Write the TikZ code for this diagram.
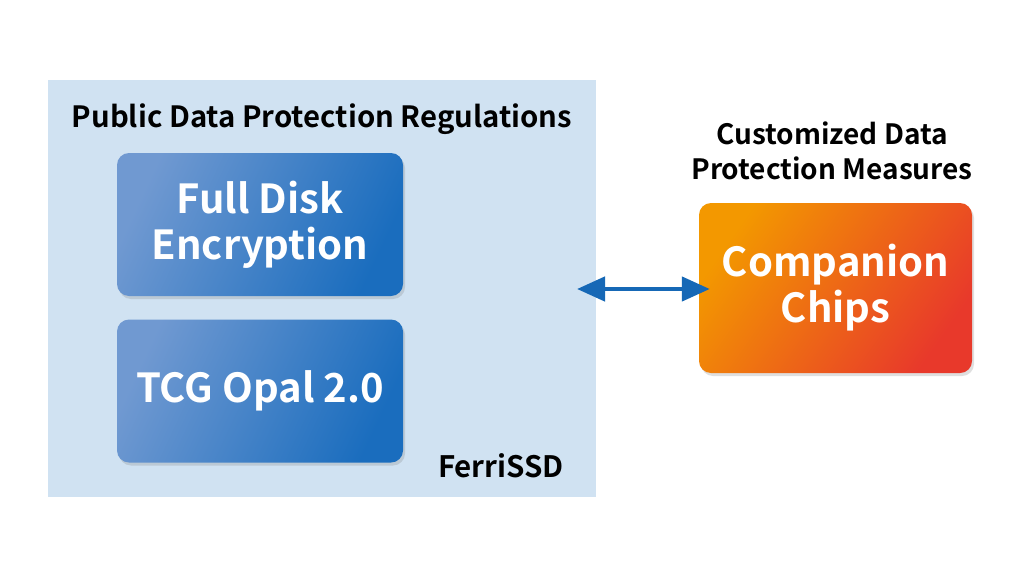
\documentclass[tikz,border=0pt]{standalone}
\usepackage{fontspec}
\setmainfont{Noto Sans CJK SC}[BoldFont={* Bold}]
\usetikzlibrary{shadows,arrows.meta}
\definecolor{panelblue}{HTML}{D0E2F2}
\definecolor{boxL}{HTML}{7099D1}
\definecolor{boxR}{HTML}{1A6DBE}
\definecolor{orgL}{HTML}{F39800}
\definecolor{orgR}{HTML}{E8392B}
\definecolor{arrowblue}{HTML}{1668B6}
\tikzset{
  bluebox/.style={rounded corners=12pt, top color=boxL, bottom color=boxR, shading angle=65,
    minimum width=286pt, minimum height=143pt, text=white, align=center,
    font=\bfseries\fontsize{40}{46}\selectfont, inner sep=0pt,
    drop shadow={opacity=0.25, shadow xshift=2pt, shadow yshift=-3pt}},
  orangebox/.style={rounded corners=12pt, top color=orgL, bottom color=orgR, shading angle=55,
    minimum width=273pt, minimum height=170pt, text=white, align=center,
    font=\bfseries\fontsize{40}{46}\selectfont, inner sep=0pt,
    drop shadow={opacity=0.25, shadow xshift=2pt, shadow yshift=-3pt}},
  heading/.style={font=\bfseries\fontsize{28}{35}\selectfont, text=black, align=center, inner sep=0pt},
  link/.style={line width=4.5pt, arrowblue, {Triangle[length=28pt,width=24pt]}-{Triangle[length=28pt,width=24pt]}}
}
\begin{document}
\begin{tikzpicture}[x=1pt,y=-1pt]
\useasboundingbox[fill=white] (0,0) rectangle (1024,586);
\node[fill=panelblue, minimum width=548pt, minimum height=417pt, inner sep=0pt, anchor=north west] (panel) at (48,80) {};
\node[heading, font=\bfseries\fontsize{29.3}{35}\selectfont] (ptitle) at (322,119) {Public Data Protection Regulations};
\node[bluebox] (fde) at (260,224.5) {Full Disk\\Encryption};
\node[bluebox] (opal) at (260,391) {TCG Opal 2.0};
\node[heading, font=\bfseries\fontsize{29.5}{35}\selectfont] (ferri) at (501,466) {FerriSSD};
\node[heading] (ctitle) at (832,151) {Customized Data\\Protection Measures};
\node[orangebox] (chips) at (835.5,288) {Companion\\Chips};
\coordinate (aleft) at (577,289);
\draw[link, shorten >=-11pt] (aleft) -- (chips.west |- aleft);
\end{tikzpicture}
\end{document}
